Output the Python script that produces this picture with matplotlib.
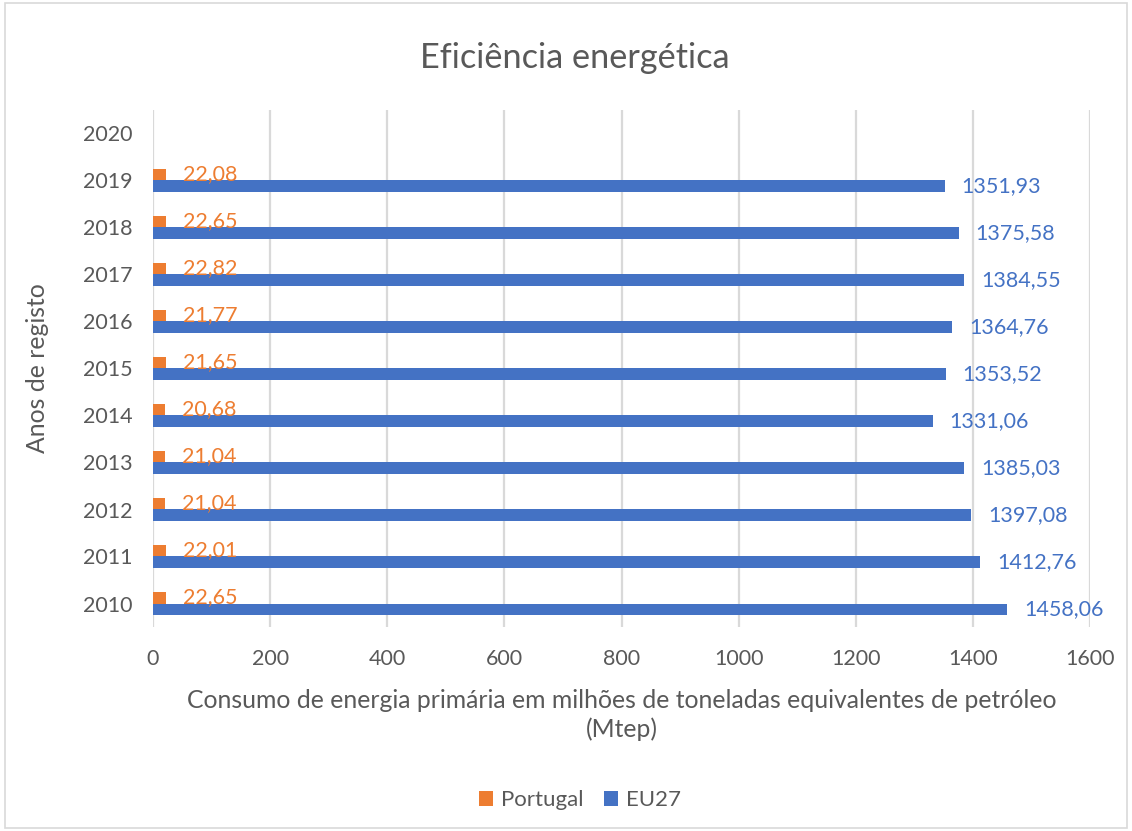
import matplotlib
matplotlib.use("Agg")
import matplotlib.pyplot as plt
from matplotlib.patches import Rectangle
import numpy as np

plt.rcParams['font.family'] = ['Lato', 'DejaVu Sans']

anos = ['2010', '2011', '2012', '2013', '2014', '2015', '2016', '2017', '2018', '2019', '2020']
portugal = [22.65, 22.01, 21.04, 21.04, 20.68, 21.65, 21.77, 22.82, 22.65, 22.08, None]
eu27 = [1458.06, 1412.76, 1397.08, 1385.03, 1331.06, 1353.52, 1364.76, 1384.55, 1375.58, 1351.93, None]

laranja = '#ed7d31'
azul = '#4472c4'
cinza = '#595959'

def fmt(v):
    return ('%.2f' % v).replace('.', ',')

fig = plt.figure(figsize=(11.32, 8.31), dpi=100)
ax = fig.add_axes([153/1132, 1 - 627/831, (1090-153)/1132, (627-110)/831])

y = np.arange(len(anos))
h = 0.255
pt_y = [i for i, v in zip(y, portugal) if v is not None]
pt_v = [v for v in portugal if v is not None]
eu_y = [i for i, v in zip(y, eu27) if v is not None]
eu_v = [v for v in eu27 if v is not None]

ax.barh(np.array(pt_y) + h/2, pt_v, height=h, color=laranja, label='Portugal', zorder=3)
ax.barh(np.array(eu_y) - h/2, eu_v, height=h, color=azul, label='EU27', zorder=3)

for yy, v in zip(pt_y, pt_v):
    ax.annotate(fmt(v), (v, yy + h/2), xytext=(17, 0), textcoords='offset pixels',
                va='center', ha='left', color=laranja, fontsize=15.5)
for yy, v in zip(eu_y, eu_v):
    ax.annotate(fmt(v), (v, yy - h/2), xytext=(17, 0), textcoords='offset pixels',
                va='center', ha='left', color=azul, fontsize=15.5)

ax.set_xlim(0, 1600)
ax.set_ylim(-0.5, len(anos) - 0.5)
ax.set_xticks(np.arange(0, 1601, 200))
ax.set_yticks(y)
ax.set_yticklabels(anos)
ax.tick_params(axis='both', length=0, labelsize=15.5, labelcolor=cinza)
ax.tick_params(axis='y', pad=15)
ax.tick_params(axis='x', pad=16)
ax.grid(axis='x', color='#d9d9d9', linewidth=1.6, zorder=0)
for s in ax.spines.values():
    s.set_visible(False)

ax.set_xlabel('Consumo de energia primária em milhões de toneladas equivalentes de petróleo\n(Mtep)',
              fontsize=17.8, color=cinza, labelpad=14, linespacing=1.3)
ax.set_ylabel('Anos de registo', fontsize=17.8, color=cinza, labelpad=24)

fig.text(575/1132, 1 - 58/831, 'Eficiência energética', ha='center', va='center',
         fontsize=24.7, color=cinza)

fig.legend(loc='center', bbox_to_anchor=(580/1132, 1 - 800/831), ncol=2, frameon=False,
           fontsize=16, labelcolor=cinza, handlelength=0.65, handleheight=0.65,
           columnspacing=0.9, handletextpad=0.35)

fig.patches.append(Rectangle((0.004, 0.004), 0.992, 0.992, transform=fig.transFigure,
                             fill=False, edgecolor='#d9d9d9', linewidth=1.2))

fig.savefig('out.png', dpi=100)
